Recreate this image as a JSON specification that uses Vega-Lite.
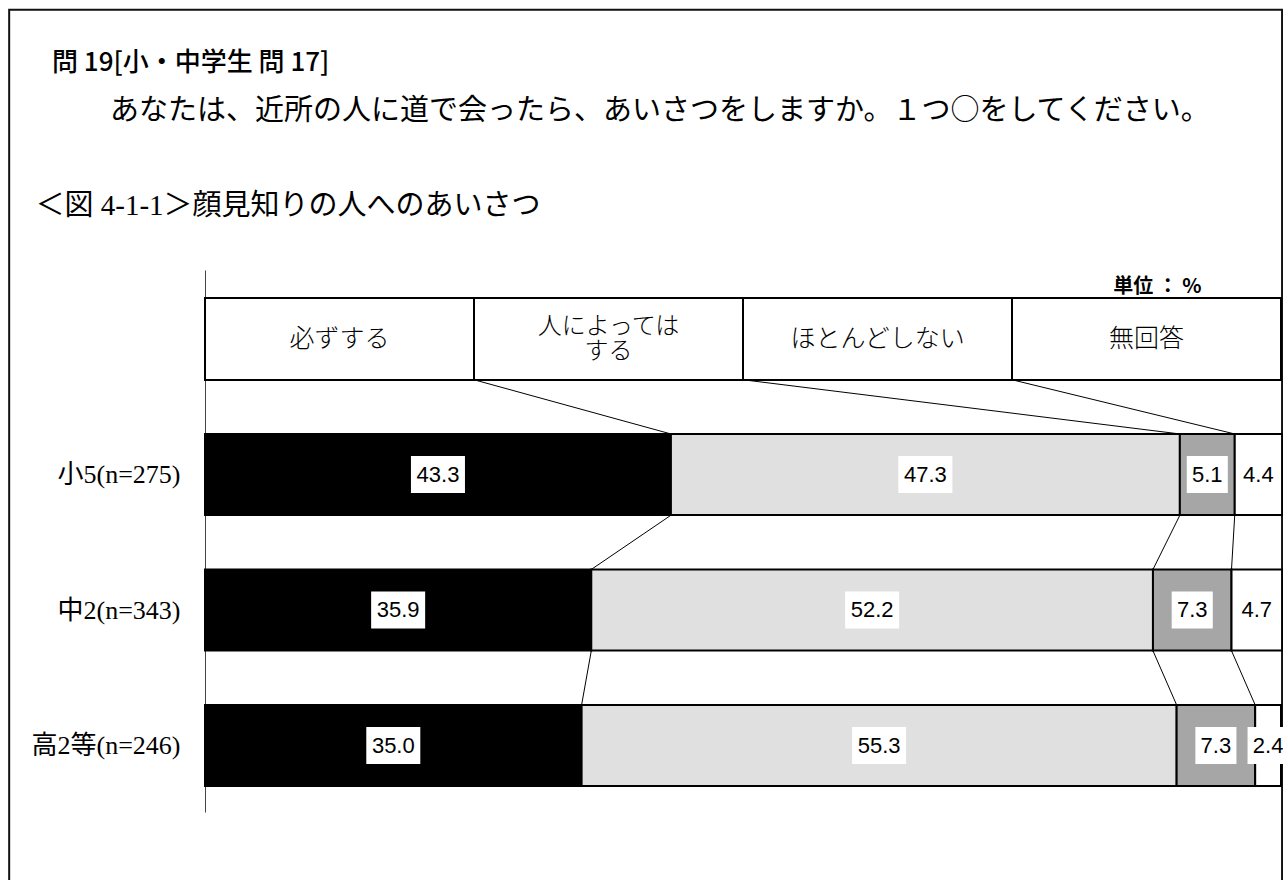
{
  "$schema": "https://vega.github.io/schema/vega-lite/v6.json",
  "width": 1076,
  "height": 542,
  "autosize": {"type": "none"},
  "padding": {"left": 205, "top": 270, "right": 2, "bottom": 68},
  "background": "white",
  "config": {
    "view": {"stroke": null},
    "font": "Noto Sans CJK JP",
    "axis": {"grid": false, "ticks": false, "tickSize": 0}
  },
  "title": {
    "text": "問 19[小・中学生 問 17]",
    "subtitle": "​　　あなたは、近所の人に道で会ったら、あいさつをしますか。１つ○をしてください。",
    "anchor": "start",
    "frame": "group",
    "dx": -153,
    "offset": -117,
    "font": "Noto Sans CJK JP",
    "fontSize": 26,
    "fontWeight": 500,
    "color": "black",
    "subtitleFont": "Noto Sans CJK JP",
    "subtitleFontSize": 29,
    "subtitleColor": "black",
    "subtitlePadding": 21
  },
  "datasets": {
    "frame": [{"x": -18.2, "x2": 100.1, "y": -2.43, "y2": 5}],
    "legend": [
      {"cat": "必ずする", "label": "必ずする", "w": 25, "o": 1, "row": 0},
      {"cat": "人によってはする", "label": "人によっては\nする", "w": 25, "o": 2, "row": 0},
      {"cat": "ほとんどしない", "label": "ほとんどしない", "w": 25, "o": 3, "row": 0},
      {"cat": "無回答", "label": "無回答", "w": 25, "o": 4, "row": 0}
    ],
    "bars": [
      {"group": "小5(n=275)", "row": 1, "cat": "必ずする", "o": 1, "value": 43.3},
      {"group": "小5(n=275)", "row": 1, "cat": "人によってはする", "o": 2, "value": 47.3},
      {"group": "小5(n=275)", "row": 1, "cat": "ほとんどしない", "o": 3, "value": 5.1},
      {"group": "小5(n=275)", "row": 1, "cat": "無回答", "o": 4, "value": 4.4},
      {"group": "中2(n=343)", "row": 2, "cat": "必ずする", "o": 1, "value": 35.9},
      {"group": "中2(n=343)", "row": 2, "cat": "人によってはする", "o": 2, "value": 52.2},
      {"group": "中2(n=343)", "row": 2, "cat": "ほとんどしない", "o": 3, "value": 7.3},
      {"group": "中2(n=343)", "row": 2, "cat": "無回答", "o": 4, "value": 4.7},
      {"group": "高2等(n=246)", "row": 3, "cat": "必ずする", "o": 1, "value": 35.0},
      {"group": "高2等(n=246)", "row": 3, "cat": "人によってはする", "o": 2, "value": 55.3},
      {"group": "高2等(n=246)", "row": 3, "cat": "ほとんどしない", "o": 3, "value": 7.3},
      {"group": "高2等(n=246)", "row": 3, "cat": "無回答", "o": 4, "value": 2.4}
    ],
    "links": [
      {"x": 25, "y": 0.3, "x2": 43.3, "y2": 0.7},
      {"x": 50, "y": 0.3, "x2": 90.6, "y2": 0.7},
      {"x": 75, "y": 0.3, "x2": 95.7, "y2": 0.7},
      {"x": 43.3, "y": 1.3, "x2": 35.9, "y2": 1.7},
      {"x": 90.6, "y": 1.3, "x2": 88.1, "y2": 1.7},
      {"x": 95.7, "y": 1.3, "x2": 95.4, "y2": 1.7},
      {"x": 35.9, "y": 2.3, "x2": 35.0, "y2": 2.7},
      {"x": 88.1, "y": 2.3, "x2": 90.3, "y2": 2.7},
      {"x": 95.4, "y": 2.3, "x2": 97.6, "y2": 2.7}
    ]
  },
  "layer": [
    {
      "data": {"name": "frame"},
      "mark": {"type": "rect", "fill": "white", "fillOpacity": 0, "stroke": "#111111", "strokeWidth": 2, "clip": false},
      "encoding": {
        "x": {"field": "x", "type": "quantitative", "scale": {"domain": [0, 100], "nice": false, "zero": false, "padding": 0},
          "axis": {"orient": "top", "domain": false, "ticks": false, "labels": false, "grid": false, "title": "単位 ： %", "titleX": 996, "titleY": 22, "titleAlign": "right", "titleAnchor": null, "titleBaseline": "alphabetic", "titleFont": "Noto Sans CJK JP", "titleFontSize": 20, "titleFontWeight": "bold", "titleColor": "black"}},
        "x2": {"field": "x2"},
        "y": {"field": "y", "type": "quantitative", "scale": {"domain": [-0.51, 3.49], "nice": false, "zero": false, "reverse": true, "padding": 0},
          "axis": {"orient": "left", "values": [1, 2, 3], "labelExpr": "datum.value == 1 ? '小5(n=275)' : datum.value == 2 ? '中2(n=343)' : '高2等(n=246)'", "ticks": false, "tickSize": 0, "grid": false, "domain": true, "domainColor": "#444444", "domainWidth": 1, "labelPadding": 25, "labelFont": "Liberation Serif, Noto Sans CJK JP", "labelFontSize": 26, "labelColor": "black", "title": "＜図 4-1-1＞顔見知りの人へのあいさつ", "titleAngle": 0, "titleX": -170, "titleY": -56, "titleAlign": "left", "titleAnchor": null, "titleBaseline": "alphabetic", "titleFont": "Liberation Serif, Noto Sans CJK JP", "titleFontSize": 29, "titleFontWeight": "normal", "titleColor": "black"}},
        "y2": {"field": "y2"}
      }
    },
    {
      "data": {"name": "legend"},
      "mark": {"type": "bar", "orient": "horizontal", "height": 82, "fill": "white", "stroke": "black", "strokeWidth": 2},
      "encoding": {
        "x": {"field": "w", "type": "quantitative", "stack": "zero", "scale": {"domain": [0, 100], "nice": false, "zero": false, "padding": 0}},
        "y": {"field": "row", "type": "quantitative", "scale": {"domain": [-0.51, 3.49], "nice": false, "zero": false, "reverse": true, "padding": 0}},
        "detail": {"field": "cat"},
        "order": {"field": "o"}
      }
    },
    {
      "data": {"name": "legend"},
      "mark": {"type": "text", "align": "center", "baseline": "middle", "font": "Liberation Serif, Noto Sans CJK JP", "fontSize": 25, "fontWeight": 300, "color": "black"},
      "encoding": {
        "x": {"field": "w", "type": "quantitative", "stack": "zero", "bandPosition": 0.5, "scale": {"domain": [0, 100], "nice": false, "zero": false, "padding": 0}},
        "y": {"field": "row", "type": "quantitative", "scale": {"domain": [-0.51, 3.49], "nice": false, "zero": false, "reverse": true, "padding": 0}},
        "detail": {"field": "cat"},
        "order": {"field": "o"},
        "text": {"condition": {"test": "datum.o == 2", "value": ""}, "field": "label"}
      }
    },
    {
      "data": {"name": "legend"},
      "mark": {"type": "text", "align": "center", "baseline": "middle", "lineBreak": "\n", "lineHeight": 25, "dy": -12, "font": "Liberation Serif, Noto Sans CJK JP", "fontSize": 24, "fontWeight": 300, "color": "black"},
      "encoding": {
        "x": {"field": "w", "type": "quantitative", "stack": "zero", "bandPosition": 0.5, "scale": {"domain": [0, 100], "nice": false, "zero": false, "padding": 0}},
        "y": {"field": "row", "type": "quantitative", "scale": {"domain": [-0.51, 3.49], "nice": false, "zero": false, "reverse": true, "padding": 0}},
        "detail": {"field": "cat"},
        "order": {"field": "o"},
        "text": {"condition": {"test": "datum.o != 2", "value": ""}, "field": "label"}
      }
    },
    {
      "data": {"name": "links"},
      "mark": {"type": "rule", "color": "black", "strokeWidth": 1},
      "encoding": {
        "x": {"field": "x", "type": "quantitative", "scale": {"domain": [0, 100], "nice": false, "zero": false, "padding": 0}},
        "x2": {"field": "x2"},
        "y": {"field": "y", "type": "quantitative", "scale": {"domain": [-0.51, 3.49], "nice": false, "zero": false, "reverse": true, "padding": 0}},
        "y2": {"field": "y2"}
      }
    },
    {
      "data": {"name": "bars"},
      "mark": {"type": "bar", "orient": "horizontal", "height": 81, "stroke": "black", "strokeWidth": 2},
      "encoding": {
        "x": {"field": "value", "type": "quantitative", "stack": "zero", "scale": {"domain": [0, 100], "nice": false, "zero": false, "padding": 0}},
        "y": {"field": "row", "type": "quantitative", "scale": {"domain": [-0.51, 3.49], "nice": false, "zero": false, "reverse": true, "padding": 0}},
        "color": {"field": "cat", "type": "nominal", "scale": {"domain": ["必ずする", "人によってはする", "ほとんどしない", "無回答"], "range": ["#000000", "#e0e0e0", "#a6a6a6", "#ffffff"]}, "legend": null},
        "order": {"field": "o"}
      }
    },
    {
      "data": {"name": "bars"},
      "mark": {"type": "point", "filled": true, "fill": "white", "opacity": 1, "strokeWidth": 0, "size": 1369},
      "encoding": {
        "x": {"field": "value", "type": "quantitative", "stack": "zero", "bandPosition": 0.5, "scale": {"domain": [0, 100], "nice": false, "zero": false, "padding": 0}},
        "y": {"field": "row", "type": "quantitative", "scale": {"domain": [-0.51, 3.49], "nice": false, "zero": false, "reverse": true, "padding": 0}},
        "detail": {"field": "cat"},
        "order": {"field": "o"},
        "shape": {"condition": {"test": "datum.value >= 10", "value": "M-1.46,-1L1.46,-1L1.46,1L-1.46,1Z"}, "value": "M-1.11,-1L1.11,-1L1.11,1L-1.11,1Z"}
      }
    },
    {
      "data": {"name": "bars"},
      "mark": {"type": "text", "align": "center", "baseline": "middle", "font": "Liberation Sans", "fontSize": 22, "color": "black"},
      "encoding": {
        "x": {"field": "value", "type": "quantitative", "stack": "zero", "bandPosition": 0.5, "scale": {"domain": [0, 100], "nice": false, "zero": false, "padding": 0}},
        "y": {"field": "row", "type": "quantitative", "scale": {"domain": [-0.51, 3.49], "nice": false, "zero": false, "reverse": true, "padding": 0}},
        "detail": {"field": "cat"},
        "order": {"field": "o"},
        "text": {"field": "value", "type": "quantitative", "format": ".1f"}
      }
    }
  ]
}
